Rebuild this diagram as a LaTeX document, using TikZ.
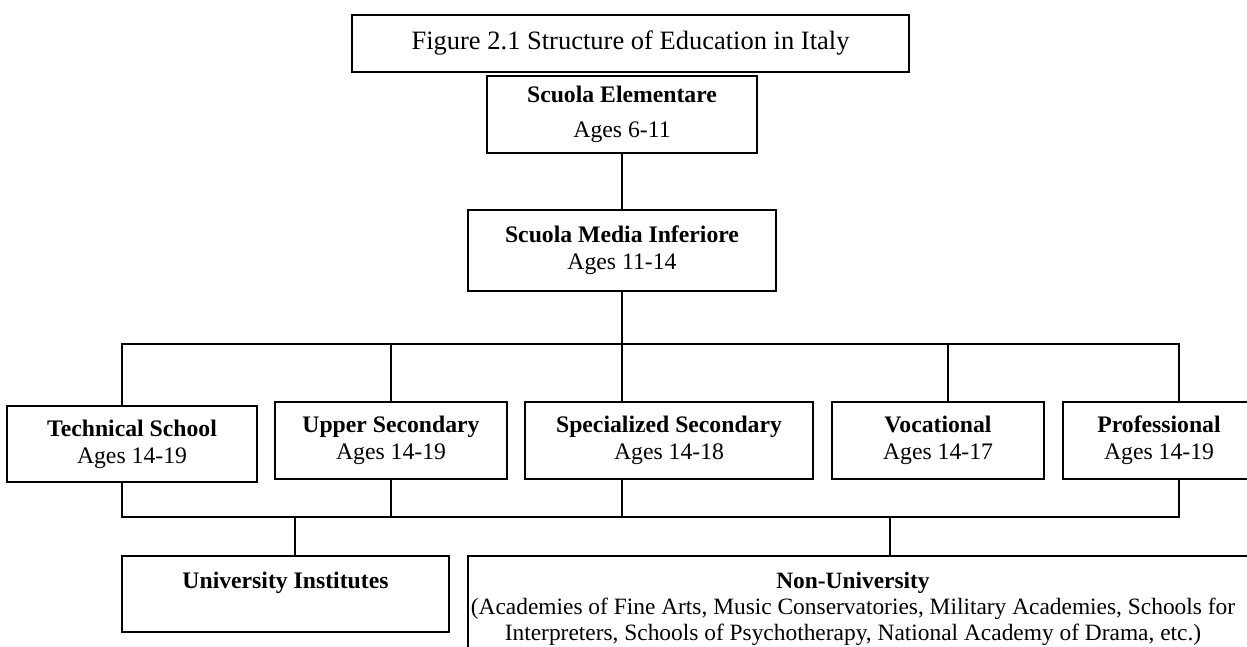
\documentclass[tikz,border=0pt]{standalone}
\usepackage{fontspec}
\setmainfont{Liberation Serif}
\begin{document}
\begin{tikzpicture}[x=1pt,y=-1pt,
  every node/.style={font=\fontsize{23.7}{27}\selectfont},
  box/.style={draw, line width=1.8pt, inner sep=0pt, align=center},
  txt/.style={inner sep=0pt, align=center},
  wire/.style={line width=1.8pt}]
\useasboundingbox (0,0) rectangle (1247,647);
\clip (0,0) rectangle (1247,647);
\fill[white] (0,0) rectangle (1247,647);

\node[box, minimum width=557, minimum height=57, font=\fontsize{26.5}{30}\selectfont] (title) at (630.5,43.5) {Figure 2.1 Structure of Education in Italy};
\node[box, minimum width=270, minimum height=77] (elem) at (622,114.5) {\textbf{Scuola Elementare}\\[8pt]Ages 6-11};
\node[box, minimum width=308, minimum height=81] (media) at (622,250.5) {\textbf{Scuola Media Inferiore}\\Ages 11-14};
\node[box, minimum width=250, minimum height=76] (tech) at (132,444) {\textbf{Technical School}\\Ages 14-19};
\node[box, minimum width=232, minimum height=77] (upper) at (391,440.5) {\textbf{Upper Secondary}\\Ages 14-19};
\node[box, minimum width=288, minimum height=77] (spec) at (669,440.5) {\textbf{Specialized Secondary}\\Ages 14-18};
\node[box, minimum width=212, minimum height=77] (voc) at (938,440.5) {\textbf{Vocational}\\Ages 14-17};
\node[box, minimum width=192, minimum height=77] (prof) at (1159,440.5) {\textbf{Professional}\\Ages 14-19};
\node[box, minimum width=327, minimum height=76] (uni) at (285.5,594) {};
\node[txt, anchor=base] (uniT) at (285.5,588) {\textbf{University Institutes}};
\node[box, minimum width=784, minimum height=104] (nonu) at (860,608) {};
\node[txt, anchor=base, font=\fontsize{23.4}{26}\selectfont] (nonuT) at (853,640) {\textbf{Non-University}\\(Academies of Fine Arts, Music Conservatories, Military Academies, Schools for\\Interpreters, Schools of Psychotherapy, National Academy of Drama, etc.)};

\coordinate (tl) at (122,344);
\coordinate (tr) at (1179,344);
\coordinate (bl) at (122,517);
\coordinate (br) at (1179,517);
\coordinate (vd) at (948,344);
\coordinate (du) at (295,517);
\coordinate (dn) at (890,517);

\draw[wire] (elem.south) -- (elem.south |- media.north);
\draw[wire] (media.south) -- (media.south |- spec.north);
\draw[wire] (tl |- tech.north) -- (tl) -- (tr) -- (tr |- prof.north);
\draw[wire] (upper.north) -- (upper.north |- tl);
\draw[wire] (vd) -- (vd |- voc.north);
\draw[wire] (bl |- tech.south) -- (bl) -- (br) -- (br |- prof.south);
\draw[wire] (upper.south) -- (upper.south |- bl);
\draw[wire] (media.south |- spec.south) -- (media.south |- bl);
\draw[wire] (du) -- (du |- uni.north);
\draw[wire] (dn) -- (dn |- nonu.north);
\end{tikzpicture}
\end{document}
